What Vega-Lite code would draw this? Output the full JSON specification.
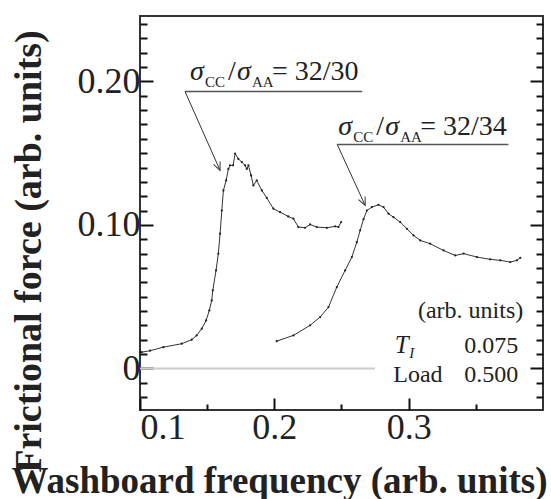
{
  "$schema": "https://vega.github.io/schema/vega-lite/v6.json",
  "width": 403,
  "height": 394,
  "autosize": "none",
  "padding": {"left": 140, "top": 16, "right": 8, "bottom": 89},
  "background": "white",
  "config": {
    "view": {"stroke": "#333", "strokeWidth": 2},
    "axis": {"grid": false, "domain": false, "labelFont": "Liberation Serif", "labelFontSize": 36, "labelColor": "#222", "tickColor": "#111", "tickWidth": 2, "tickOpacity": 1, "titleFont": "Liberation Serif", "titleColor": "#222"}
  },
  "datasets": {
    "curve1": [
      {"x": 0.1, "y": 0.0111}, {"x": 0.1013, "y": 0.0113}, {"x": 0.1075, "y": 0.0123}, {"x": 0.1174, "y": 0.0148},
      {"x": 0.1311, "y": 0.0172}, {"x": 0.1385, "y": 0.0200}, {"x": 0.1422, "y": 0.0230}, {"x": 0.1460, "y": 0.0277},
      {"x": 0.1492, "y": 0.0334}, {"x": 0.1516, "y": 0.0404}, {"x": 0.1534, "y": 0.0474}, {"x": 0.1542, "y": 0.0544},
      {"x": 0.1566, "y": 0.0683}, {"x": 0.1583, "y": 0.0799}, {"x": 0.1596, "y": 0.0939}, {"x": 0.1609, "y": 0.1100},
      {"x": 0.1621, "y": 0.1240}, {"x": 0.1641, "y": 0.1310}, {"x": 0.1658, "y": 0.1390}, {"x": 0.1670, "y": 0.1415},
      {"x": 0.1693, "y": 0.1415}, {"x": 0.1708, "y": 0.1496}, {"x": 0.1732, "y": 0.1460}, {"x": 0.1758, "y": 0.1438},
      {"x": 0.1782, "y": 0.1415}, {"x": 0.1795, "y": 0.1390}, {"x": 0.1807, "y": 0.1415}, {"x": 0.1827, "y": 0.1345},
      {"x": 0.1844, "y": 0.1275}, {"x": 0.1869, "y": 0.1310}, {"x": 0.1907, "y": 0.1240}, {"x": 0.1944, "y": 0.1188},
      {"x": 0.1993, "y": 0.1113}, {"x": 0.2043, "y": 0.1089}, {"x": 0.2103, "y": 0.1059}, {"x": 0.2142, "y": 0.1043},
      {"x": 0.2179, "y": 0.0985}, {"x": 0.2229, "y": 0.0980}, {"x": 0.2266, "y": 0.1003}, {"x": 0.2316, "y": 0.0985},
      {"x": 0.2391, "y": 0.0980}, {"x": 0.2453, "y": 0.0990}, {"x": 0.2477, "y": 0.0985}, {"x": 0.2497, "y": 0.1020}
    ],
    "curve2": [
      {"x": 0.2018, "y": 0.0190}, {"x": 0.2142, "y": 0.0230}, {"x": 0.2266, "y": 0.0300}, {"x": 0.2341, "y": 0.0358},
      {"x": 0.2403, "y": 0.0427}, {"x": 0.2465, "y": 0.0567}, {"x": 0.2527, "y": 0.0683}, {"x": 0.2577, "y": 0.0776},
      {"x": 0.2614, "y": 0.0880}, {"x": 0.2639, "y": 0.0962}, {"x": 0.2664, "y": 0.1040}, {"x": 0.2689, "y": 0.1100},
      {"x": 0.2726, "y": 0.1124}, {"x": 0.2775, "y": 0.1140}, {"x": 0.2813, "y": 0.1124}, {"x": 0.2850, "y": 0.1078},
      {"x": 0.2887, "y": 0.1054}, {"x": 0.2937, "y": 0.1020}, {"x": 0.2987, "y": 0.0973}, {"x": 0.3036, "y": 0.0927},
      {"x": 0.3086, "y": 0.0892}, {"x": 0.3160, "y": 0.0869}, {"x": 0.3260, "y": 0.0822}, {"x": 0.3347, "y": 0.0787},
      {"x": 0.3409, "y": 0.0800}, {"x": 0.3508, "y": 0.0776}, {"x": 0.3607, "y": 0.0760}, {"x": 0.3682, "y": 0.0753},
      {"x": 0.3756, "y": 0.0741}, {"x": 0.3806, "y": 0.0753}, {"x": 0.3831, "y": 0.0771}
    ]
  },
  "layer": [
    {
      "data": {"values": [{"x": 0.1, "x2": 0.275, "y": 0}]},
      "mark": {"type": "rule", "color": "#cccccc", "strokeWidth": 2},
      "encoding": {
        "x": {"field": "x", "type": "quantitative", "scale": {"domain": [0.1, 0.4], "nice": false, "zero": false},
          "axis": {"values": [0.1, 0.2, 0.3], "format": ".1f", "tickSize": -12, "labelPadding": 12,
            "title": "Washboard frequency (arb. units)", "titleFontSize": 37, "titleFontWeight": "bold",
            "titleX": 139, "titleY": 82, "titleAlign": "center", "titleBaseline": "alphabetic"}},
        "x2": {"field": "x2"},
        "y": {"field": "y", "type": "quantitative", "scale": {"domain": [-0.029, 0.2456], "nice": false, "zero": false},
          "axis": {"values": [0, 0.1, 0.2], "labelExpr": "datum.value == 0 ? '0' : format(datum.value, '.2f')", "tickSize": -13, "labelPadding": 13,
            "title": "Frictional force (arb. units)", "titleFontSize": 38, "titleFontWeight": "bold",
            "titleX": -100, "titleY": 235, "titleAngle": -90, "titleAlign": "center", "titleBaseline": "alphabetic"}}
      }
    },
    {
      "data": {"name": "curve1"},
      "mark": {"type": "line", "color": "#333", "strokeWidth": 1},
      "encoding": {
        "x": {"field": "x", "type": "quantitative", "axis": {"orient": "bottom", "values": [0.15, 0.25, 0.35], "labels": false, "tickSize": -6, "title": null}},
        "y": {"field": "y", "type": "quantitative", "axis": {"orient": "left", "values": [-0.02, -0.01, 0.01, 0.02, 0.03, 0.04, 0.05, 0.06, 0.07, 0.08, 0.09, 0.11, 0.12, 0.13, 0.14, 0.15, 0.16, 0.17, 0.18, 0.19, 0.21, 0.22, 0.23, 0.24], "labels": false, "tickSize": -7, "title": null}}
      }
    },
    {
      "data": {"name": "curve2"},
      "mark": {"type": "line", "color": "#333", "strokeWidth": 1},
      "encoding": {
        "x": {"field": "x", "type": "quantitative", "axis": null},
        "y": {"field": "y", "type": "quantitative", "axis": {"orient": "right", "values": [0, 0.1, 0.2], "labels": false, "tickSize": -13, "title": null}}
      }
    },
    {
      "data": {"values": [
        {"x": 0.1335, "y": 0.193, "x2": 0.2654, "y2": 0.193},
        {"x": 0.2468, "y": 0.1561, "x2": 0.3742, "y2": 0.1561}
      ]},
      "mark": {"type": "rule", "color": "#555", "strokeWidth": 1.5},
      "encoding": {
        "x": {"field": "x", "type": "quantitative", "axis": null},
        "x2": {"field": "x2"},
        "y": {"field": "y", "type": "quantitative", "axis": {"orient": "right", "values": [-0.02, -0.01, 0.01, 0.02, 0.03, 0.04, 0.05, 0.06, 0.07, 0.08, 0.09, 0.11, 0.12, 0.13, 0.14, 0.15, 0.16, 0.17, 0.18, 0.19, 0.21, 0.22, 0.23, 0.24], "labels": false, "tickSize": -7, "title": null}},
        "y2": {"field": "y2"}
      }
    },
    {
      "data": {"name": "curve1"},
      "mark": {"type": "point", "filled": true, "size": 5, "color": "#222", "opacity": 1},
      "encoding": {
        "x": {"field": "x", "type": "quantitative", "axis": null},
        "y": {"field": "y", "type": "quantitative", "axis": null}
      }
    },
    {
      "data": {"name": "curve2"},
      "mark": {"type": "point", "filled": true, "size": 5, "color": "#222", "opacity": 1},
      "encoding": {
        "x": {"field": "x", "type": "quantitative", "axis": null},
        "y": {"field": "y", "type": "quantitative", "axis": null}
      }
    },
    {
      "data": {"values": [
        {"x": 0.1335, "y": 0.193, "x2": 0.1596, "y2": 0.138},
        {"x": 0.2468, "y": 0.1561, "x2": 0.2676, "y2": 0.1136}
      ]},
      "mark": {"type": "rule", "color": "#333", "strokeWidth": 1},
      "encoding": {
        "x": {"field": "x", "type": "quantitative", "axis": null},
        "x2": {"field": "x2"},
        "y": {"field": "y", "type": "quantitative", "axis": null},
        "y2": {"field": "y2"}
      }
    },
    {
      "data": {"values": [{"x": 0.1596, "y": 0.138}, {"x": 0.2676, "y": 0.1136}]},
      "mark": {"type": "point", "shape": "M -0.45 -1 L 0 0 L 0.45 -1", "filled": false, "stroke": "#333", "strokeWidth": 1, "size": 260, "angle": 336, "opacity": 1},
      "encoding": {
        "x": {"field": "x", "type": "quantitative", "axis": null},
        "y": {"field": "y", "type": "quantitative", "axis": null}
      }
    },
    {
      "data": {"values": [
        {"t": "σ", "x": 0.1372, "y": 0.2007}, {"t": "σ", "x": 0.1723, "y": 0.2007},
        {"t": "σ", "x": 0.2475, "y": 0.1624}, {"t": "σ", "x": 0.2825, "y": 0.1624}
      ]},
      "mark": {"type": "text", "font": "Liberation Serif", "fontStyle": "italic", "fontSize": 28, "align": "left", "baseline": "alphabetic", "color": "#222"},
      "encoding": {
        "x": {"field": "x", "type": "quantitative", "axis": null},
        "y": {"field": "y", "type": "quantitative", "axis": null},
        "text": {"field": "t"}
      }
    },
    {
      "data": {"values": [
        {"t": "CC", "x": 0.1484, "y": 0.1958}, {"t": "AA", "x": 0.1834, "y": 0.1958},
        {"t": "CC", "x": 0.2587, "y": 0.1575}, {"t": "AA", "x": 0.2937, "y": 0.1575}
      ]},
      "mark": {"type": "text", "font": "Liberation Serif", "fontSize": 15, "align": "left", "baseline": "alphabetic", "color": "#222"},
      "encoding": {
        "x": {"field": "x", "type": "quantitative", "axis": null},
        "y": {"field": "y", "type": "quantitative", "axis": null},
        "text": {"field": "t"}
      }
    },
    {
      "data": {"values": [
        {"t": "/", "x": 0.1656, "y": 0.2007}, {"t": "= 32/30", "x": 0.1983, "y": 0.2007},
        {"t": "/", "x": 0.2758, "y": 0.1624}, {"t": "= 32/34", "x": 0.3086, "y": 0.1624}
      ]},
      "mark": {"type": "text", "font": "Liberation Serif", "fontSize": 28, "align": "left", "baseline": "alphabetic", "color": "#222"},
      "encoding": {
        "x": {"field": "x", "type": "quantitative", "axis": null},
        "y": {"field": "y", "type": "quantitative", "axis": null},
        "text": {"field": "t"}
      }
    },
    {
      "data": {"values": [
        {"t": "(arb. units)", "x": 0.3853, "y": 0.0348},
        {"t": "0.075", "x": 0.3816, "y": 0.0105},
        {"t": "0.500", "x": 0.3816, "y": -0.0098}
      ]},
      "mark": {"type": "text", "font": "Liberation Serif", "fontSize": 24, "align": "right", "baseline": "alphabetic", "color": "#222"},
      "encoding": {
        "x": {"field": "x", "type": "quantitative", "axis": null},
        "y": {"field": "y", "type": "quantitative", "axis": null},
        "text": {"field": "t"}
      }
    },
    {
      "data": {"values": [{"t": "Load", "x": 0.2885, "y": -0.0098}]},
      "mark": {"type": "text", "font": "Liberation Serif", "fontSize": 24, "align": "left", "baseline": "alphabetic", "color": "#222"},
      "encoding": {
        "x": {"field": "x", "type": "quantitative", "axis": null},
        "y": {"field": "y", "type": "quantitative", "axis": null},
        "text": {"field": "t"}
      }
    },
    {
      "data": {"values": [{"t": "T", "x": 0.2897, "y": 0.0105}]},
      "mark": {"type": "text", "font": "Liberation Serif", "fontStyle": "italic", "fontSize": 25, "align": "left", "baseline": "alphabetic", "color": "#222"},
      "encoding": {
        "x": {"field": "x", "type": "quantitative", "axis": null},
        "y": {"field": "y", "type": "quantitative", "axis": null},
        "text": {"field": "t"}
      }
    },
    {
      "data": {"values": [{"t": "I", "x": 0.3004, "y": 0.0072}]},
      "mark": {"type": "text", "font": "Liberation Serif", "fontStyle": "italic", "fontSize": 15, "align": "left", "baseline": "alphabetic", "color": "#222"},
      "encoding": {
        "x": {"field": "x", "type": "quantitative", "axis": null},
        "y": {"field": "y", "type": "quantitative", "axis": null},
        "text": {"field": "t"}
      }
    }
  ],
  "resolve": {"axis": {"x": "independent", "y": "independent"}}
}
